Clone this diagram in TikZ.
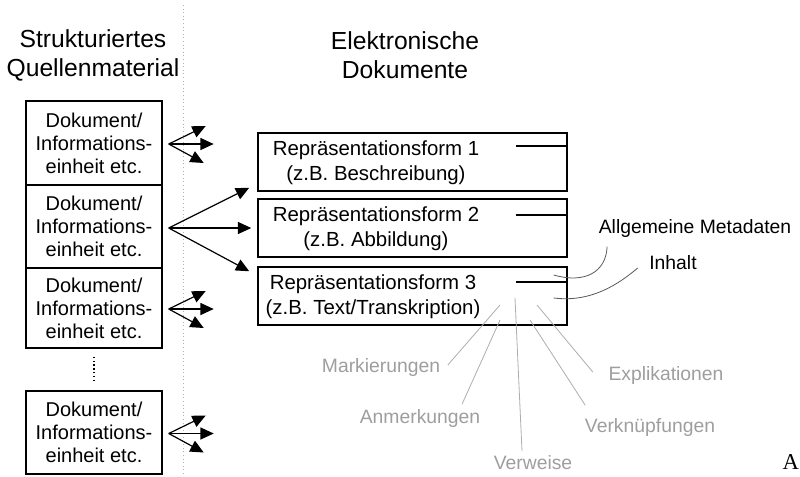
\documentclass[tikz,border=0pt]{standalone}
\usepackage{fontspec}
\setmainfont{Liberation Sans}
\newfontfamily\serifA{Liberation Serif}
\usetikzlibrary{calc,positioning,arrows.meta}

\begin{document}
\begin{tikzpicture}[x=0.75pt,y=-0.75pt,
  docbox/.style={draw, line width=1.1pt, minimum width=102pt, align=center, inner sep=0pt, font=\fontsize{15}{17.3}\selectfont},
  repbox/.style={draw, line width=1.1pt, minimum width=231.75pt, minimum height=43.5pt, inner sep=0pt},
  reptext/.style={align=center, font=\fontsize{15.3}{18.75}\selectfont},
  head/.style={align=center, font=\fontsize{18.5}{21.75}\selectfont},
  arrow/.style={-{Triangle[length=10pt,width=9pt]}, line width=0.9pt},
  tag/.style={font=\fontsize{14.5}{17}\selectfont},
  faint/.style={tag, text=black!38},
  pointer/.style={draw=black!65, line width=0.6pt},
  faintline/.style={draw=black!32, line width=0.6pt}
]
\useasboundingbox (0,0) rectangle (800,476);

% separator
\draw[black!30, dotted, line width=0.7pt] (183,5) -- (183,476);

% headings
\node[head] (hsrc) at (93,55) {Strukturiertes\\Quellenmaterial};
\node[head] (hdoc) at (405,55) {Elektronische\\Dokumente};

% source material
\node[docbox, minimum height=63pt] (doc1) at (94,143) {Dokument/\\Informations-\\einheit etc.};
\node[docbox, minimum height=62.25pt] (doc2) at (94,226.5) {Dokument/\\Informations-\\einheit etc.};
\node[docbox, minimum height=60pt] (doc3) at (94,308) {Dokument/\\Informations-\\einheit etc.};
\node[docbox, minimum height=62.25pt] (doc4) at (94,432.5) {Dokument/\\Informations-\\einheit etc.};
\draw[dotted, line width=0.9pt] ($(doc3.south)+(0,8)$) -- ($(doc4.north)+(0,-8)$);

% representations
\node[repbox] (rep1) at (412.5,162) {};
\node[repbox] (rep2) at (412.5,228) {};
\node[repbox] (rep3) at (412.5,296) {};
\node[reptext] (txt1) at (376,163) {Repräsentationsform 1\\(z.B. Beschreibung)};
\node[reptext] (txt2) at (376,229) {Repräsentationsform 2\\(z.B. Abbildung)};
\node[reptext] (txt3) at (373,297) {Repräsentationsform 3\\(z.B. Text/Transkription)};
\draw[line width=0.9pt] ($(rep1.east)+(-52,-16)$) -- (rep1.east |- 0,146);
\draw[line width=0.9pt] ($(rep2.east)+(-52,-13)$) -- (rep2.east |- 0,215);
\draw[line width=0.9pt] ($(rep3.east)+(-52,-14)$) -- (rep3.east |- 0,282);

% fans
\foreach \s in {doc1,doc3,doc4} {
  \coordinate (\s-o) at ($(\s.east)+(6,1)$);
  \draw[arrow] (\s-o) -- ++(37,-18);
  \draw[arrow] (\s-o) -- ++(45,0);
  \draw[arrow] (\s-o) -- ++(35,19);
}
\coordinate (doc2-o) at ($(doc2.east)+(6,1.5)$);
\draw[arrow] (doc2-o) -- ($(rep1.south west)+(-8,-4)$);
\draw[arrow] (doc2-o) -- ($(rep2.west)+(-6,0)$);
\draw[arrow] (doc2-o) -- ($(rep3.north west)+(-8,5)$);

% parts of a representation
\node[tag] (meta) at (695,228) {Allgemeine Metadaten};
\node[tag] (inh) at (673,263) {Inhalt};
\coordinate (p-meta) at ($(rep3.east)+(-14,-21)$);
\coordinate (p-inh) at ($(rep3.east)+(-14,2)$);
\draw[pointer] (p-meta) .. controls (585,284) and (606,272) .. ($(meta.south west)+(13,5)$);
\draw[pointer] (p-inh) .. controls (585,302) and (612,290) .. ($(inh.west)+(-7,5)$);

\node[faint] (mark) at (381,367) {Markierungen};
\node[faint] (anm) at (420,418) {Anmerkungen};
\node[faint] (verw) at (533,463) {Verweise};
\node[faint] (verkn) at (650,427) {Verknüpfungen};
\node[faint] (expl) at (666,375) {Explikationen};
\coordinate (p-mark) at ($(rep3.center)+(87.5,9)$);
\coordinate (p-anm) at ($(rep3.center)+(87.5,24)$);
\coordinate (p-verw) at ($(rep3.center)+(102.5,2)$);
\coordinate (p-verkn) at ($(rep3.center)+(117.5,24)$);
\coordinate (p-expl) at ($(rep3.center)+(124.5,9)$);
\draw[faintline] ($(mark.east)+(3,-2)$) -- (p-mark);
\draw[faintline] ($(anm.north)+(42,0)$) -- (p-anm);
\draw[faintline] ($(verw.north)+(-11,0)$) -- (p-verw);
\draw[faintline] ($(verkn.north west)+(5,-8)$) -- (p-verkn);
\draw[faintline] ($(expl.west)+(-11,-3)$) -- (p-expl);

\node[font=\serifA\fontsize{17}{17}\selectfont, anchor=east, inner sep=0.5pt] (amark) at (800,462) {A};
\end{tikzpicture}
\end{document}
